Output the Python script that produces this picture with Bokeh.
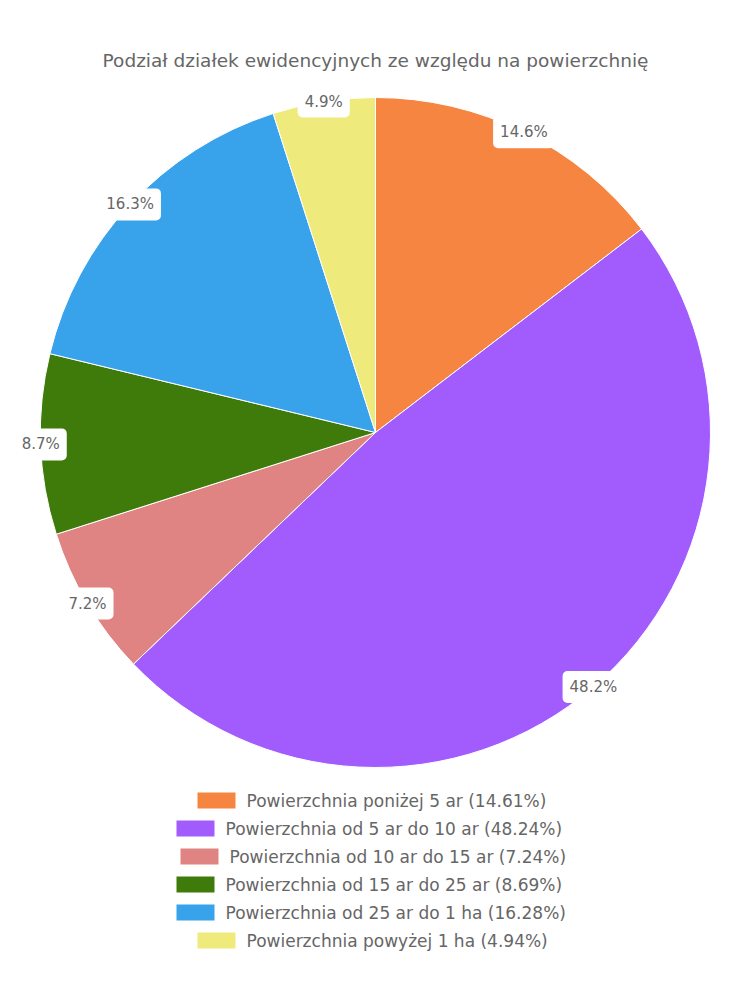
import numpy as np
from bokeh.plotting import figure
from bokeh.models import Range1d, ColumnDataSource
from bokeh.core.properties import value
from bokeh.embed import file_html
from bokeh.resources import INLINE

title = "Podział działek ewidencyjnych ze względu na powierzchnię"
categories = [
    "Powierzchnia poniżej 5 ar",
    "Powierzchnia od 5 ar do 10 ar",
    "Powierzchnia od 10 ar do 15 ar",
    "Powierzchnia od 15 ar do 25 ar",
    "Powierzchnia od 25 ar do 1 ha",
    "Powierzchnia powyżej 1 ha",
]
shares = [14.61, 48.24, 7.24, 8.69, 16.28, 4.94]
colors = ["#F58540", "#A25CFE", "#E08383", "#3E7B0A", "#38A2EB", "#EFEA7C"]

FONT = "DejaVu Sans"
W, H = 750, 1000
p = figure(width=W, height=H, x_range=Range1d(0, W), y_range=Range1d(0, H),
           output_backend="svg", toolbar_location=None, min_border=0)
p.axis.visible = False
p.grid.visible = False
p.outline_line_color = None
p.background_fill_color = "white"
p.border_fill_color = "white"

cx, cy, R = 375, H - 432, 335
frac = np.array(shares) / sum(shares)
cum = np.concatenate([[0], np.cumsum(frac)])
start = np.pi / 2 - 2 * np.pi * cum[:-1]
end = np.pi / 2 - 2 * np.pi * cum[1:]
mid = (start + end) / 2

src = ColumnDataSource(dict(start=start, end=end, color=colors,
                            lx=cx + R * np.cos(mid), ly=cy + R * np.sin(mid),
                            lab=[f"{s:.1f}%" for s in shares]))
p.wedge(x=cx, y=cy, radius=R, start_angle="start", end_angle="end", direction="clock",
        fill_color="color", line_color="white", line_width=1, source=src)

p.text(x="lx", y="ly", text="lab", source=src, text_font=value(FONT), text_font_size="15px",
       text_color="#666666", anchor="center", text_align="center", text_baseline="middle",
       background_fill_color="white", border_radius=5, padding=7)

# title
p.text(x=[W / 2], y=[H - 60], text=[title], text_font=value(FONT), text_font_size="18.5px",
       text_color="#666666", text_align="center", text_baseline="middle")

# legend
leg_text = [f"{c} ({s:.2f}%)" for c, s in zip(categories, shares)]
box_left = [197, 176, 180, 176, 176, 197]
row_y = [H - (800 + 28 * i) for i in range(len(categories))]
lsrc = ColumnDataSource(dict(bx=[b + 19 for b in box_left], tx=[b + 49 for b in box_left],
                             y=row_y, color=colors, t=leg_text))
p.rect(x="bx", y="y", width=38, height=16, fill_color="color", line_color=None, source=lsrc)
p.text(x="tx", y="y", text="t", source=lsrc, text_font=value(FONT), text_font_size="17px",
       text_color="#666666", text_align="left", text_baseline="middle")

open("out.html", "w").write(file_html(p, INLINE))
